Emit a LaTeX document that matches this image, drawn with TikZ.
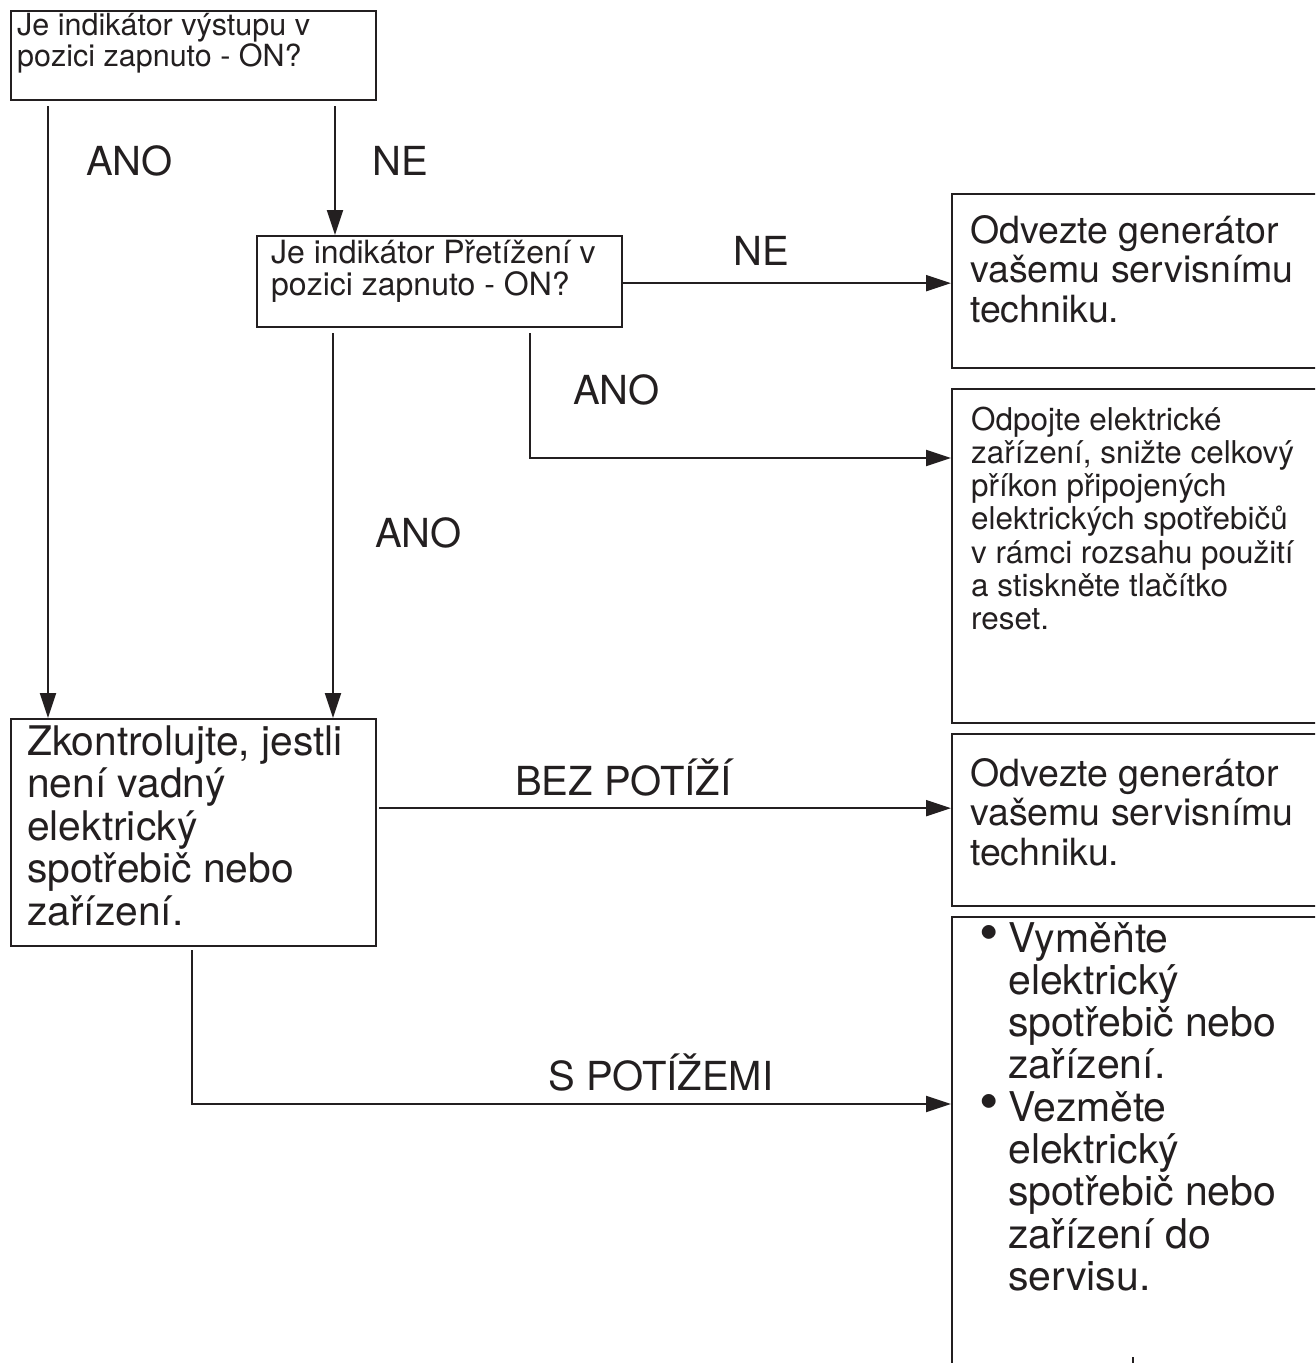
\documentclass[tikz,border=0pt]{standalone}
\usepackage{fontspec}
\setmainfont{TeX Gyre Heros}
\usetikzlibrary{arrows.meta}
\definecolor{ink}{RGB}{35,31,32}
\newcommand{\bulletmark}{\leavevmode\llap{\raisebox{1pt}{\scalebox{1.35}{•}}\hspace{9pt}}}

\begin{document}
\begin{tikzpicture}[x=1pt,y=-1pt,
  box/.style={draw=ink, line width=2.3pt, rectangle, inner sep=0pt, anchor=north west},
  txt/.style={inner sep=0pt, anchor=base west, text=ink},
  lbl/.style={inner sep=0pt, anchor=base west, text=ink, font=\fontsize{40}{44}\selectfont},
  arr/.style={draw=ink, line width=2.2pt, -{Triangle[length=25pt,width=16pt]}},
  link/.style={draw=ink, line width=2.2pt}]

\useasboundingbox (0,0) rectangle (1315,1363);
\fill[white] (0,0) rectangle (1315,1363);

\begin{scope}
\clip (0,0) rectangle (1315,1363);

% question and check boxes
\node[box, minimum width=365pt, minimum height=89pt] (A) at (10,10) {};
\node[box, minimum width=365pt, minimum height=91pt] (B) at (256,235) {};
\node[box, minimum width=365pt, minimum height=227pt] (C) at (10,718) {};

% result boxes on the right (open towards the page edge)
\node[box, minimum width=420pt, minimum height=174pt] (R1) at (951,193) {};
\node[box, minimum width=420pt, minimum height=334pt] (R2) at (951,388) {};
\node[box, minimum width=420pt, minimum height=172pt] (R3) at (951,733) {};
\node[box, minimum width=420pt, minimum height=480pt] (R4) at (951,916) {};

% box texts
\node[txt] (tA) at (17,35) {\parbox[t]{360pt}{\fontsize{30.5}{31}\selectfont
  Je indikátor výstupu v\\pozici zapnuto - ON?}};
\node[txt] (tB) at (271,263) {\parbox[t]{360pt}{\fontsize{32}{32}\selectfont
  Je indikátor Přetížení v\\pozici zapnuto - ON?}};
\node[txt] (tC) at (27,755) {\parbox[t]{360pt}{\fontsize{40.8}{42.6}\selectfont
  Zkontrolujte, jestli\\není vadný\\elektrický\\spotřebič nebo\\zařízení.}};
\node[txt] (t1) at (970,243) {\parbox[t]{360pt}{\fontsize{37.5}{39.5}\selectfont
  Odvezte generátor\\vašemu servisnímu\\techniku.}};
\node[txt] (t2) at (971,430) {\parbox[t]{360pt}{\fontsize{31.4}{33.3}\selectfont
  Odpojte elektrické\\zařízení, snižte celkový\\příkon připojených\\elektrických spotřebičů\\v rámci rozsahu použití\\a stiskněte tlačítko\\reset.}};
\node[txt] (t3) at (970,786) {\parbox[t]{360pt}{\fontsize{37.5}{39.5}\selectfont
  Odvezte generátor\\vašemu servisnímu\\techniku.}};
\node[txt] (t4) at (1008,952) {\parbox[t]{320pt}{\fontsize{41}{42.3}\selectfont
  \bulletmark Vyměňte\\elektrický\\spotřebič nebo\\zařízení.\\
  \bulletmark Vezměte\\elektrický\\spotřebič nebo\\zařízení do\\servisu.}};

% branch labels
\node[lbl] (l1) at (86,175) {ANO};
\node[lbl] (l2) at (372,175) {NE};
\node[lbl] (l3) at (733,265) {NE};
\node[lbl] (l4) at (573,404) {ANO};
\node[lbl] (l5) at (375,547) {ANO};
\node[lbl] (l6) at (515,795) {BEZ POTÍŽÍ};
\node[lbl] (l7) at (548,1090) {S POTÍŽEMI};

% connectors
\draw[arr] ([xshift=38pt,yshift=-5pt]A.south west) -- ([xshift=38pt]C.north west);
\draw[arr] ([xshift=325pt,yshift=-5pt]A.south west) -- ([xshift=79pt]B.north west);
\draw[arr] ([yshift=-1.5pt]B.east) -- ([yshift=-1.5pt]B.east -| R1.west);
\draw[arr] ([xshift=77pt,yshift=-5pt]B.south west) -- ([xshift=323pt]C.north west);
\coordinate (k2) at (530,458);
\draw[arr] ([xshift=274pt,yshift=-5pt]B.south west) -- (k2) -- (k2 -| R2.west);
\draw[arr] ([xshift=2pt,yshift=24.5pt]C.east) -- ([yshift=24.5pt]C.east -| R3.west);
\coordinate (k4) at (192,1104);
\draw[arr] ([xshift=182pt,yshift=-3pt]C.south west) -- (k4) -- (k4 -| R4.west);

% small tick at the lower edge
\coordinate (tk) at (1133,1357);
\draw[link] (tk) -- ++(0,12);
\end{scope}
\end{tikzpicture}
\end{document}
